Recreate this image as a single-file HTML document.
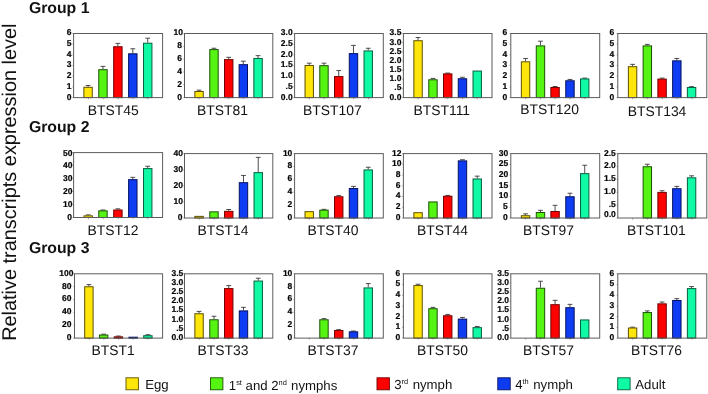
<!DOCTYPE html>
<html lang="en">
<head>
<meta charset="utf-8">
<title>Relative transcripts expression level</title>
<style>
html,body{margin:0;padding:0;background:#fff;}
body{width:708px;height:394px;overflow:hidden;}
svg{display:block;}
text{font-family:"Liberation Sans",Arial,Helvetica,sans-serif;fill:#111;text-rendering:geometricPrecision;}
.t{font-size:8.5px;font-weight:bold;text-anchor:end;fill:#000;stroke:#000;stroke-width:0.2px;}
.n{font-size:13.9px;text-anchor:middle;}
.g{font-size:15.8px;font-weight:bold;}
.l{font-size:13.2px;}
.s{font-size:7.4px;}
.y{font-size:19.9px;text-anchor:middle;}
</style>
</head>
<body>
<svg width="708" height="394" viewBox="0 0 708 394">
<rect width="708" height="394" fill="#ffffff"/>

<g>
<path d="M88.06 86.81V85.47M85.66 85.47H90.46" stroke="#3a3a3a" stroke-width="0.9" fill="none"/>
<rect x="83.86" y="87.31" width="8.4" height="10.29" fill="#ffe60a" stroke="#5e5000" stroke-width="1"/>
<path d="M102.97 69.21V66.36M100.57 66.36H105.37" stroke="#3a3a3a" stroke-width="0.9" fill="none"/>
<rect x="98.77" y="69.71" width="8.4" height="27.89" fill="#56f412" stroke="#1a5204" stroke-width="1"/>
<path d="M117.89 46.25V43.4M115.49 43.4H120.29" stroke="#3a3a3a" stroke-width="0.9" fill="none"/>
<rect x="113.69" y="46.75" width="8.4" height="50.85" fill="#ff0000" stroke="#700000" stroke-width="1"/>
<path d="M132.81 53.29V48.76M130.41 48.76H135.21" stroke="#3a3a3a" stroke-width="0.9" fill="none"/>
<rect x="128.61" y="53.79" width="8.4" height="43.81" fill="#0e3cf2" stroke="#051060" stroke-width="1"/>
<path d="M147.73 42.73V38.2M145.33 38.2H150.13" stroke="#3a3a3a" stroke-width="0.9" fill="none"/>
<rect x="143.53" y="43.23" width="8.4" height="54.37" fill="#10faa5" stroke="#06603e" stroke-width="1"/>
<rect x="73.6" y="33.5" width="89" height="64.1" fill="none" stroke="#5c5c5c" stroke-width="1"/>
<path d="M73.6 97.6h-1.2M73.6 86.92h-1.2M73.6 76.23h-1.2M73.6 65.55h-1.2M73.6 54.87h-1.2M73.6 44.18h-1.2M73.6 33.5h-1.2M88.43 97.6v1.6M103.27 97.6v1.6M118.1 97.6v1.6M132.93 97.6v1.6M147.77 97.6v1.6" stroke="#5c5c5c" stroke-width="0.55" fill="none"/>
</g>
<g>
<path d="M199.06 91V90.16M196.66 90.16H201.46" stroke="#3a3a3a" stroke-width="0.9" fill="none"/>
<rect x="194.86" y="91.5" width="8.4" height="6.1" fill="#ffe60a" stroke="#5e5000" stroke-width="1"/>
<path d="M213.98 49.1V48.26M211.58 48.26H216.38" stroke="#3a3a3a" stroke-width="0.9" fill="none"/>
<rect x="209.78" y="49.6" width="8.4" height="48" fill="#56f412" stroke="#1a5204" stroke-width="1"/>
<path d="M228.73 59.15V57.31M226.33 57.31H231.13" stroke="#3a3a3a" stroke-width="0.9" fill="none"/>
<rect x="224.53" y="59.65" width="8.4" height="37.95" fill="#ff0000" stroke="#700000" stroke-width="1"/>
<path d="M243.31 64.18V61.17M240.91 61.17H245.71" stroke="#3a3a3a" stroke-width="0.9" fill="none"/>
<rect x="239.11" y="64.68" width="8.4" height="32.92" fill="#0e3cf2" stroke="#051060" stroke-width="1"/>
<path d="M258.06 57.98V55.63M255.66 55.63H260.46" stroke="#3a3a3a" stroke-width="0.9" fill="none"/>
<rect x="253.86" y="58.48" width="8.4" height="39.12" fill="#10faa5" stroke="#06603e" stroke-width="1"/>
<rect x="184.5" y="33.5" width="88.3" height="64.1" fill="none" stroke="#5c5c5c" stroke-width="1"/>
<path d="M184.5 97.6h-1.2M184.5 84.78h-1.2M184.5 71.96h-1.2M184.5 59.14h-1.2M184.5 46.32h-1.2M184.5 33.5h-1.2M199.22 97.6v1.6M213.93 97.6v1.6M228.65 97.6v1.6M243.37 97.6v1.6M258.08 97.6v1.6" stroke="#5c5c5c" stroke-width="0.55" fill="none"/>
</g>
<g>
<path d="M309.23 65.02V63.18M306.83 63.18H311.63" stroke="#3a3a3a" stroke-width="0.9" fill="none"/>
<rect x="305.03" y="65.52" width="8.4" height="32.08" fill="#ffe60a" stroke="#5e5000" stroke-width="1"/>
<path d="M323.98 65.19V63.18M321.58 63.18H326.38" stroke="#3a3a3a" stroke-width="0.9" fill="none"/>
<rect x="319.78" y="65.69" width="8.4" height="31.91" fill="#56f412" stroke="#1a5204" stroke-width="1"/>
<path d="M338.73 76.08V70.55M336.33 70.55H341.13" stroke="#3a3a3a" stroke-width="0.9" fill="none"/>
<rect x="334.53" y="76.58" width="8.4" height="21.02" fill="#ff0000" stroke="#700000" stroke-width="1"/>
<path d="M353.48 53.12V45.41M351.08 45.41H355.88" stroke="#3a3a3a" stroke-width="0.9" fill="none"/>
<rect x="349.28" y="53.62" width="8.4" height="43.98" fill="#0e3cf2" stroke="#051060" stroke-width="1"/>
<path d="M368.23 50.44V48.26M365.83 48.26H370.63" stroke="#3a3a3a" stroke-width="0.9" fill="none"/>
<rect x="364.03" y="50.94" width="8.4" height="46.66" fill="#10faa5" stroke="#06603e" stroke-width="1"/>
<rect x="294.6" y="33.5" width="88.7" height="64.1" fill="none" stroke="#5c5c5c" stroke-width="1"/>
<path d="M294.6 97.6h-1.2M294.6 86.92h-1.2M294.6 76.23h-1.2M294.6 65.55h-1.2M294.6 54.87h-1.2M294.6 44.18h-1.2M294.6 33.5h-1.2M309.38 97.6v1.6M324.17 97.6v1.6M338.95 97.6v1.6M353.73 97.6v1.6M368.52 97.6v1.6" stroke="#5c5c5c" stroke-width="0.55" fill="none"/>
</g>
<g>
<path d="M418.06 40.21V37.53M415.66 37.53H420.46" stroke="#3a3a3a" stroke-width="0.9" fill="none"/>
<rect x="413.86" y="40.71" width="8.4" height="56.89" fill="#ffe60a" stroke="#5e5000" stroke-width="1"/>
<path d="M432.97 79.27V78.43M430.57 78.43H435.37" stroke="#3a3a3a" stroke-width="0.9" fill="none"/>
<rect x="428.77" y="79.77" width="8.4" height="17.83" fill="#56f412" stroke="#1a5204" stroke-width="1"/>
<path d="M447.72 73.4V73.07M445.32 73.07H450.12" stroke="#3a3a3a" stroke-width="0.9" fill="none"/>
<rect x="443.52" y="73.9" width="8.4" height="23.7" fill="#ff0000" stroke="#700000" stroke-width="1"/>
<path d="M462.47 78.26V77.26M460.07 77.26H464.87" stroke="#3a3a3a" stroke-width="0.9" fill="none"/>
<rect x="458.27" y="78.76" width="8.4" height="18.84" fill="#0e3cf2" stroke="#051060" stroke-width="1"/>
<rect x="473.02" y="71.05" width="8.4" height="26.55" fill="#10faa5" stroke="#06603e" stroke-width="1"/>
<rect x="403.4" y="33.5" width="88.6" height="64.1" fill="none" stroke="#5c5c5c" stroke-width="1"/>
<path d="M403.4 97.6h-1.2M403.4 88.44h-1.2M403.4 79.29h-1.2M403.4 70.13h-1.2M403.4 60.97h-1.2M403.4 51.81h-1.2M403.4 42.66h-1.2M403.4 33.5h-1.2M418.17 97.6v1.6M432.93 97.6v1.6M447.7 97.6v1.6M462.47 97.6v1.6M477.23 97.6v1.6" stroke="#5c5c5c" stroke-width="0.55" fill="none"/>
</g>
<g>
<path d="M525.55 61.33V58.48M523.15 58.48H527.95" stroke="#3a3a3a" stroke-width="0.9" fill="none"/>
<rect x="521.35" y="61.83" width="8.4" height="35.77" fill="#ffe60a" stroke="#5e5000" stroke-width="1"/>
<path d="M540.47 45.41V41.22M538.07 41.22H542.87" stroke="#3a3a3a" stroke-width="0.9" fill="none"/>
<rect x="536.27" y="45.91" width="8.4" height="51.69" fill="#56f412" stroke="#1a5204" stroke-width="1"/>
<path d="M555.05 86.98V86.48M552.65 86.48H557.45" stroke="#3a3a3a" stroke-width="0.9" fill="none"/>
<rect x="550.85" y="87.48" width="8.4" height="10.12" fill="#ff0000" stroke="#700000" stroke-width="1"/>
<path d="M569.97 80.27V79.44M567.57 79.44H572.37" stroke="#3a3a3a" stroke-width="0.9" fill="none"/>
<rect x="565.77" y="80.77" width="8.4" height="16.83" fill="#0e3cf2" stroke="#051060" stroke-width="1"/>
<path d="M584.72 78.43V78.09M582.32 78.09H587.12" stroke="#3a3a3a" stroke-width="0.9" fill="none"/>
<rect x="580.52" y="78.93" width="8.4" height="18.67" fill="#10faa5" stroke="#06603e" stroke-width="1"/>
<rect x="510.8" y="33.5" width="88.9" height="64.1" fill="none" stroke="#5c5c5c" stroke-width="1"/>
<path d="M510.8 97.6h-1.2M510.8 86.92h-1.2M510.8 76.23h-1.2M510.8 65.55h-1.2M510.8 54.87h-1.2M510.8 44.18h-1.2M510.8 33.5h-1.2M525.62 97.6v1.6M540.43 97.6v1.6M555.25 97.6v1.6M570.07 97.6v1.6M584.88 97.6v1.6" stroke="#5c5c5c" stroke-width="0.55" fill="none"/>
</g>
<g>
<path d="M632.58 66.19V64.35M630.18 64.35H634.98" stroke="#3a3a3a" stroke-width="0.9" fill="none"/>
<rect x="628.38" y="66.69" width="8.4" height="30.91" fill="#ffe60a" stroke="#5e5000" stroke-width="1"/>
<path d="M647.33 45.41V44.4M644.93 44.4H649.73" stroke="#3a3a3a" stroke-width="0.9" fill="none"/>
<rect x="643.13" y="45.91" width="8.4" height="51.69" fill="#56f412" stroke="#1a5204" stroke-width="1"/>
<path d="M662.08 78.6V78.09M659.68 78.09H664.48" stroke="#3a3a3a" stroke-width="0.9" fill="none"/>
<rect x="657.88" y="79.1" width="8.4" height="18.5" fill="#ff0000" stroke="#700000" stroke-width="1"/>
<path d="M676.83 60.33V58.48M674.43 58.48H679.23" stroke="#3a3a3a" stroke-width="0.9" fill="none"/>
<rect x="672.63" y="60.83" width="8.4" height="36.77" fill="#0e3cf2" stroke="#051060" stroke-width="1"/>
<path d="M691.58 86.98V86.64M689.18 86.64H693.98" stroke="#3a3a3a" stroke-width="0.9" fill="none"/>
<rect x="687.38" y="87.48" width="8.4" height="10.12" fill="#10faa5" stroke="#06603e" stroke-width="1"/>
<rect x="617.8" y="33.5" width="89" height="64.1" fill="none" stroke="#5c5c5c" stroke-width="1"/>
<path d="M617.8 97.6h-1.2M617.8 86.92h-1.2M617.8 76.23h-1.2M617.8 65.55h-1.2M617.8 54.87h-1.2M617.8 44.18h-1.2M617.8 33.5h-1.2M632.63 97.6v1.6M647.47 97.6v1.6M662.3 97.6v1.6M677.13 97.6v1.6M691.97 97.6v1.6" stroke="#5c5c5c" stroke-width="0.55" fill="none"/>
</g>
<g>
<path d="M88.22 215.36V214.86M85.82 214.86H90.62" stroke="#3a3a3a" stroke-width="0.9" fill="none"/>
<rect x="84.02" y="215.86" width="8.4" height="1.64" fill="#ffe60a" stroke="#5e5000" stroke-width="1"/>
<path d="M102.97 210.34V210M100.57 210H105.37" stroke="#3a3a3a" stroke-width="0.9" fill="none"/>
<rect x="98.77" y="210.84" width="8.4" height="6.66" fill="#56f412" stroke="#1a5204" stroke-width="1"/>
<path d="M117.89 209.5V208.83M115.49 208.83H120.29" stroke="#3a3a3a" stroke-width="0.9" fill="none"/>
<rect x="113.69" y="210" width="8.4" height="7.5" fill="#ff0000" stroke="#700000" stroke-width="1"/>
<path d="M132.81 179.16V177.32M130.41 177.32H135.21" stroke="#3a3a3a" stroke-width="0.9" fill="none"/>
<rect x="128.61" y="179.66" width="8.4" height="37.84" fill="#0e3cf2" stroke="#051060" stroke-width="1"/>
<path d="M147.73 168.1V166.25M145.33 166.25H150.13" stroke="#3a3a3a" stroke-width="0.9" fill="none"/>
<rect x="143.53" y="168.6" width="8.4" height="48.9" fill="#10faa5" stroke="#06603e" stroke-width="1"/>
<rect x="73.6" y="152.6" width="89" height="64.9" fill="none" stroke="#5c5c5c" stroke-width="1"/>
<path d="M73.6 217.5h-1.2M73.6 204.52h-1.2M73.6 191.54h-1.2M73.6 178.56h-1.2M73.6 165.58h-1.2M73.6 152.6h-1.2M88.43 217.5v1.6M103.27 217.5v1.6M118.1 217.5v1.6M132.93 217.5v1.6M147.77 217.5v1.6" stroke="#5c5c5c" stroke-width="0.55" fill="none"/>
</g>
<g>
<rect x="194.86" y="216.37" width="8.4" height="1.63" fill="#ffe60a" stroke="#5e5000" stroke-width="1"/>
<rect x="209.78" y="211.84" width="8.4" height="6.16" fill="#56f412" stroke="#1a5204" stroke-width="1"/>
<path d="M228.73 210.84V209.5M226.33 209.5H231.13" stroke="#3a3a3a" stroke-width="0.9" fill="none"/>
<rect x="224.53" y="211.34" width="8.4" height="6.66" fill="#ff0000" stroke="#700000" stroke-width="1"/>
<path d="M243.48 182.18V175.47M241.08 175.47H245.88" stroke="#3a3a3a" stroke-width="0.9" fill="none"/>
<rect x="239.28" y="182.68" width="8.4" height="35.32" fill="#0e3cf2" stroke="#051060" stroke-width="1"/>
<path d="M258.23 172.12V157.37M255.83 157.37H260.63" stroke="#3a3a3a" stroke-width="0.9" fill="none"/>
<rect x="254.03" y="172.62" width="8.4" height="45.38" fill="#10faa5" stroke="#06603e" stroke-width="1"/>
<rect x="184.5" y="153.6" width="88.3" height="64.4" fill="none" stroke="#5c5c5c" stroke-width="1"/>
<path d="M184.5 218h-1.2M184.5 201.9h-1.2M184.5 185.8h-1.2M184.5 169.7h-1.2M184.5 153.6h-1.2M199.22 218v1.6M213.93 218v1.6M228.65 218v1.6M243.37 218v1.6M258.08 218v1.6" stroke="#5c5c5c" stroke-width="0.55" fill="none"/>
</g>
<g>
<rect x="305.03" y="211.67" width="8.4" height="6.33" fill="#ffe60a" stroke="#5e5000" stroke-width="1"/>
<path d="M323.98 209.67V209.33M321.58 209.33H326.38" stroke="#3a3a3a" stroke-width="0.9" fill="none"/>
<rect x="319.78" y="210.17" width="8.4" height="7.83" fill="#56f412" stroke="#1a5204" stroke-width="1"/>
<path d="M338.73 196.26V195.59M336.33 195.59H341.13" stroke="#3a3a3a" stroke-width="0.9" fill="none"/>
<rect x="334.53" y="196.76" width="8.4" height="21.24" fill="#ff0000" stroke="#700000" stroke-width="1"/>
<path d="M353.48 188.04V186.37M351.08 186.37H355.88" stroke="#3a3a3a" stroke-width="0.9" fill="none"/>
<rect x="349.28" y="188.54" width="8.4" height="29.46" fill="#0e3cf2" stroke="#051060" stroke-width="1"/>
<path d="M368.23 169.44V167.26M365.83 167.26H370.63" stroke="#3a3a3a" stroke-width="0.9" fill="none"/>
<rect x="364.03" y="169.94" width="8.4" height="48.06" fill="#10faa5" stroke="#06603e" stroke-width="1"/>
<rect x="294.6" y="153.6" width="88.7" height="64.4" fill="none" stroke="#5c5c5c" stroke-width="1"/>
<path d="M294.6 218h-1.2M294.6 205.12h-1.2M294.6 192.24h-1.2M294.6 179.36h-1.2M294.6 166.48h-1.2M294.6 153.6h-1.2M309.38 218v1.6M324.17 218v1.6M338.95 218v1.6M353.73 218v1.6M368.52 218v1.6" stroke="#5c5c5c" stroke-width="0.55" fill="none"/>
</g>
<g>
<rect x="413.86" y="212.68" width="8.4" height="5.32" fill="#ffe60a" stroke="#5e5000" stroke-width="1"/>
<rect x="428.77" y="201.95" width="8.4" height="16.05" fill="#56f412" stroke="#1a5204" stroke-width="1"/>
<path d="M447.72 195.75V195.42M445.32 195.42H450.12" stroke="#3a3a3a" stroke-width="0.9" fill="none"/>
<rect x="443.52" y="196.25" width="8.4" height="21.75" fill="#ff0000" stroke="#700000" stroke-width="1"/>
<path d="M462.47 160.39V159.72M460.07 159.72H464.87" stroke="#3a3a3a" stroke-width="0.9" fill="none"/>
<rect x="458.27" y="160.89" width="8.4" height="57.11" fill="#0e3cf2" stroke="#051060" stroke-width="1"/>
<path d="M477.22 178.49V176.14M474.82 176.14H479.62" stroke="#3a3a3a" stroke-width="0.9" fill="none"/>
<rect x="473.02" y="178.99" width="8.4" height="39.01" fill="#10faa5" stroke="#06603e" stroke-width="1"/>
<rect x="403.4" y="153.6" width="88.6" height="64.4" fill="none" stroke="#5c5c5c" stroke-width="1"/>
<path d="M403.4 218h-1.2M403.4 207.27h-1.2M403.4 196.53h-1.2M403.4 185.8h-1.2M403.4 175.07h-1.2M403.4 164.33h-1.2M403.4 153.6h-1.2M418.17 218v1.6M432.93 218v1.6M447.7 218v1.6M462.47 218v1.6M477.23 218v1.6" stroke="#5c5c5c" stroke-width="0.55" fill="none"/>
</g>
<g>
<path d="M525.55 215.2V213.86M523.15 213.86H527.95" stroke="#3a3a3a" stroke-width="0.9" fill="none"/>
<rect x="521.35" y="215.7" width="8.4" height="2.3" fill="#ffe60a" stroke="#5e5000" stroke-width="1"/>
<path d="M540.47 212.01V210.34M538.07 210.34H542.87" stroke="#3a3a3a" stroke-width="0.9" fill="none"/>
<rect x="536.27" y="212.51" width="8.4" height="5.49" fill="#56f412" stroke="#1a5204" stroke-width="1"/>
<path d="M555.05 211.01V205.31M552.65 205.31H557.45" stroke="#3a3a3a" stroke-width="0.9" fill="none"/>
<rect x="550.85" y="211.51" width="8.4" height="6.49" fill="#ff0000" stroke="#700000" stroke-width="1"/>
<path d="M569.97 196.26V193.24M567.57 193.24H572.37" stroke="#3a3a3a" stroke-width="0.9" fill="none"/>
<rect x="565.77" y="196.76" width="8.4" height="21.24" fill="#0e3cf2" stroke="#051060" stroke-width="1"/>
<path d="M584.72 173.13V165.25M582.32 165.25H587.12" stroke="#3a3a3a" stroke-width="0.9" fill="none"/>
<rect x="580.52" y="173.63" width="8.4" height="44.37" fill="#10faa5" stroke="#06603e" stroke-width="1"/>
<rect x="510.8" y="153.6" width="88.9" height="64.4" fill="none" stroke="#5c5c5c" stroke-width="1"/>
<path d="M510.8 218h-1.2M510.8 207.27h-1.2M510.8 196.53h-1.2M510.8 185.8h-1.2M510.8 175.07h-1.2M510.8 164.33h-1.2M510.8 153.6h-1.2M525.62 218v1.6M540.43 218v1.6M555.25 218v1.6M570.07 218v1.6M584.88 218v1.6" stroke="#5c5c5c" stroke-width="0.55" fill="none"/>
</g>
<g>
<path d="M647.33 166.25V164.24M644.93 164.24H649.73" stroke="#3a3a3a" stroke-width="0.9" fill="none"/>
<rect x="643.13" y="166.75" width="8.4" height="51.25" fill="#56f412" stroke="#1a5204" stroke-width="1"/>
<path d="M662.08 191.9V190.73M659.68 190.73H664.48" stroke="#3a3a3a" stroke-width="0.9" fill="none"/>
<rect x="657.88" y="192.4" width="8.4" height="25.6" fill="#ff0000" stroke="#700000" stroke-width="1"/>
<path d="M676.83 188.21V186.37M674.43 186.37H679.23" stroke="#3a3a3a" stroke-width="0.9" fill="none"/>
<rect x="672.63" y="188.71" width="8.4" height="29.29" fill="#0e3cf2" stroke="#051060" stroke-width="1"/>
<path d="M691.58 177.32V175.81M689.18 175.81H693.98" stroke="#3a3a3a" stroke-width="0.9" fill="none"/>
<rect x="687.38" y="177.82" width="8.4" height="40.18" fill="#10faa5" stroke="#06603e" stroke-width="1"/>
<rect x="617.8" y="153.6" width="89" height="64.4" fill="none" stroke="#5c5c5c" stroke-width="1"/>
<path d="M617.8 218h-1.2M617.8 205.12h-1.2M617.8 192.24h-1.2M617.8 179.36h-1.2M617.8 166.48h-1.2M617.8 153.6h-1.2M632.63 218v1.6M647.47 218v1.6M662.3 218v1.6M677.13 218v1.6M691.97 218v1.6" stroke="#5c5c5c" stroke-width="0.55" fill="none"/>
</g>
<g>
<path d="M88.89 286.25V284.58M86.49 284.58H91.29" stroke="#3a3a3a" stroke-width="0.9" fill="none"/>
<rect x="84.69" y="286.75" width="8.4" height="51.35" fill="#ffe60a" stroke="#5e5000" stroke-width="1"/>
<path d="M103.64 334.53V334.19M101.24 334.19H106.04" stroke="#3a3a3a" stroke-width="0.9" fill="none"/>
<rect x="99.44" y="335.03" width="8.4" height="3.07" fill="#56f412" stroke="#1a5204" stroke-width="1"/>
<path d="M118.39 336.37V336.04M115.99 336.04H120.79" stroke="#3a3a3a" stroke-width="0.9" fill="none"/>
<rect x="114.19" y="336.87" width="8.4" height="1.23" fill="#ff0000" stroke="#700000" stroke-width="1"/>
<rect x="128.94" y="337.21" width="8.4" height="0.89" fill="#0e3cf2" stroke="#051060" stroke-width="1"/>
<path d="M147.89 335.2V334.69M145.49 334.69H150.29" stroke="#3a3a3a" stroke-width="0.9" fill="none"/>
<rect x="143.69" y="335.7" width="8.4" height="2.4" fill="#10faa5" stroke="#06603e" stroke-width="1"/>
<rect x="74.5" y="273.8" width="88.1" height="64.3" fill="none" stroke="#5c5c5c" stroke-width="1"/>
<path d="M74.5 338.1h-1.2M74.5 325.24h-1.2M74.5 312.38h-1.2M74.5 299.52h-1.2M74.5 286.66h-1.2M74.5 273.8h-1.2M89.18 338.1v1.6M103.87 338.1v1.6M118.55 338.1v1.6M133.23 338.1v1.6M147.92 338.1v1.6" stroke="#5c5c5c" stroke-width="0.55" fill="none"/>
</g>
<g>
<path d="M199.06 313.24V311.4M196.66 311.4H201.46" stroke="#3a3a3a" stroke-width="0.9" fill="none"/>
<rect x="194.86" y="313.74" width="8.4" height="24.36" fill="#ffe60a" stroke="#5e5000" stroke-width="1"/>
<path d="M213.98 319.27V316.26M211.58 316.26H216.38" stroke="#3a3a3a" stroke-width="0.9" fill="none"/>
<rect x="209.78" y="319.77" width="8.4" height="18.33" fill="#56f412" stroke="#1a5204" stroke-width="1"/>
<path d="M228.73 288.1V285.58M226.33 285.58H231.13" stroke="#3a3a3a" stroke-width="0.9" fill="none"/>
<rect x="224.53" y="288.6" width="8.4" height="49.5" fill="#ff0000" stroke="#700000" stroke-width="1"/>
<path d="M243.48 310.39V307.37M241.08 307.37H245.88" stroke="#3a3a3a" stroke-width="0.9" fill="none"/>
<rect x="239.28" y="310.89" width="8.4" height="27.21" fill="#0e3cf2" stroke="#051060" stroke-width="1"/>
<path d="M258.23 280.55V278.21M255.83 278.21H260.63" stroke="#3a3a3a" stroke-width="0.9" fill="none"/>
<rect x="254.03" y="281.05" width="8.4" height="57.05" fill="#10faa5" stroke="#06603e" stroke-width="1"/>
<rect x="184.5" y="273.8" width="88.3" height="64.3" fill="none" stroke="#5c5c5c" stroke-width="1"/>
<path d="M184.5 338.1h-1.2M184.5 328.91h-1.2M184.5 319.73h-1.2M184.5 310.54h-1.2M184.5 301.36h-1.2M184.5 292.17h-1.2M184.5 282.99h-1.2M184.5 273.8h-1.2M199.22 338.1v1.6M213.93 338.1v1.6M228.65 338.1v1.6M243.37 338.1v1.6M258.08 338.1v1.6" stroke="#5c5c5c" stroke-width="0.55" fill="none"/>
</g>
<g>
<path d="M323.98 319.27V318.6M321.58 318.6H326.38" stroke="#3a3a3a" stroke-width="0.9" fill="none"/>
<rect x="319.78" y="319.77" width="8.4" height="18.33" fill="#56f412" stroke="#1a5204" stroke-width="1"/>
<path d="M338.73 330V329.67M336.33 329.67H341.13" stroke="#3a3a3a" stroke-width="0.9" fill="none"/>
<rect x="334.53" y="330.5" width="8.4" height="7.6" fill="#ff0000" stroke="#700000" stroke-width="1"/>
<path d="M353.48 331.34V331.01M351.08 331.01H355.88" stroke="#3a3a3a" stroke-width="0.9" fill="none"/>
<rect x="349.28" y="331.84" width="8.4" height="6.26" fill="#0e3cf2" stroke="#051060" stroke-width="1"/>
<path d="M368.23 287.43V283.57M365.83 283.57H370.63" stroke="#3a3a3a" stroke-width="0.9" fill="none"/>
<rect x="364.03" y="287.93" width="8.4" height="50.17" fill="#10faa5" stroke="#06603e" stroke-width="1"/>
<rect x="294.6" y="273.8" width="88.7" height="64.3" fill="none" stroke="#5c5c5c" stroke-width="1"/>
<path d="M294.6 338.1h-1.2M294.6 325.24h-1.2M294.6 312.38h-1.2M294.6 299.52h-1.2M294.6 286.66h-1.2M294.6 273.8h-1.2M309.38 338.1v1.6M324.17 338.1v1.6M338.95 338.1v1.6M353.73 338.1v1.6M368.52 338.1v1.6" stroke="#5c5c5c" stroke-width="0.55" fill="none"/>
</g>
<g>
<path d="M418.06 285.08V284.24M415.66 284.24H420.46" stroke="#3a3a3a" stroke-width="0.9" fill="none"/>
<rect x="413.86" y="285.58" width="8.4" height="52.52" fill="#ffe60a" stroke="#5e5000" stroke-width="1"/>
<path d="M432.97 308.21V307.37M430.57 307.37H435.37" stroke="#3a3a3a" stroke-width="0.9" fill="none"/>
<rect x="428.77" y="308.71" width="8.4" height="29.39" fill="#56f412" stroke="#1a5204" stroke-width="1"/>
<path d="M447.72 315.25V314.41M445.32 314.41H450.12" stroke="#3a3a3a" stroke-width="0.9" fill="none"/>
<rect x="443.52" y="315.75" width="8.4" height="22.35" fill="#ff0000" stroke="#700000" stroke-width="1"/>
<path d="M462.47 318.6V317.43M460.07 317.43H464.87" stroke="#3a3a3a" stroke-width="0.9" fill="none"/>
<rect x="458.27" y="319.1" width="8.4" height="19" fill="#0e3cf2" stroke="#051060" stroke-width="1"/>
<path d="M477.22 327.15V326.48M474.82 326.48H479.62" stroke="#3a3a3a" stroke-width="0.9" fill="none"/>
<rect x="473.02" y="327.65" width="8.4" height="10.45" fill="#10faa5" stroke="#06603e" stroke-width="1"/>
<rect x="403.4" y="273.8" width="88.6" height="64.3" fill="none" stroke="#5c5c5c" stroke-width="1"/>
<path d="M403.4 338.1h-1.2M403.4 327.38h-1.2M403.4 316.67h-1.2M403.4 305.95h-1.2M403.4 295.23h-1.2M403.4 284.52h-1.2M403.4 273.8h-1.2M418.17 338.1v1.6M432.93 338.1v1.6M447.7 338.1v1.6M462.47 338.1v1.6M477.23 338.1v1.6" stroke="#5c5c5c" stroke-width="0.55" fill="none"/>
</g>
<g>
<path d="M540.47 287.76V281.22M538.07 281.22H542.87" stroke="#3a3a3a" stroke-width="0.9" fill="none"/>
<rect x="536.27" y="288.26" width="8.4" height="49.84" fill="#56f412" stroke="#1a5204" stroke-width="1"/>
<path d="M555.05 304.19V300.33M552.65 300.33H557.45" stroke="#3a3a3a" stroke-width="0.9" fill="none"/>
<rect x="550.85" y="304.69" width="8.4" height="33.41" fill="#ff0000" stroke="#700000" stroke-width="1"/>
<path d="M569.97 307.21V304.36M567.57 304.36H572.37" stroke="#3a3a3a" stroke-width="0.9" fill="none"/>
<rect x="565.77" y="307.71" width="8.4" height="30.39" fill="#0e3cf2" stroke="#051060" stroke-width="1"/>
<rect x="580.52" y="319.94" width="8.4" height="18.16" fill="#10faa5" stroke="#06603e" stroke-width="1"/>
<rect x="510.8" y="273.8" width="88.9" height="64.3" fill="none" stroke="#5c5c5c" stroke-width="1"/>
<path d="M510.8 338.1h-1.2M510.8 328.91h-1.2M510.8 319.73h-1.2M510.8 310.54h-1.2M510.8 301.36h-1.2M510.8 292.17h-1.2M510.8 282.99h-1.2M510.8 273.8h-1.2M525.62 338.1v1.6M540.43 338.1v1.6M555.25 338.1v1.6M570.07 338.1v1.6M584.88 338.1v1.6" stroke="#5c5c5c" stroke-width="0.55" fill="none"/>
</g>
<g>
<path d="M632.58 327.49V327.15M630.18 327.15H634.98" stroke="#3a3a3a" stroke-width="0.9" fill="none"/>
<rect x="628.38" y="327.99" width="8.4" height="10.11" fill="#ffe60a" stroke="#5e5000" stroke-width="1"/>
<path d="M647.33 312.07V310.89M644.93 310.89H649.73" stroke="#3a3a3a" stroke-width="0.9" fill="none"/>
<rect x="643.13" y="312.57" width="8.4" height="25.53" fill="#56f412" stroke="#1a5204" stroke-width="1"/>
<path d="M662.08 303.35V302.01M659.68 302.01H664.48" stroke="#3a3a3a" stroke-width="0.9" fill="none"/>
<rect x="657.88" y="303.85" width="8.4" height="34.25" fill="#ff0000" stroke="#700000" stroke-width="1"/>
<path d="M676.83 300V298.66M674.43 298.66H679.23" stroke="#3a3a3a" stroke-width="0.9" fill="none"/>
<rect x="672.63" y="300.5" width="8.4" height="37.6" fill="#0e3cf2" stroke="#051060" stroke-width="1"/>
<path d="M691.58 288.1V286.59M689.18 286.59H693.98" stroke="#3a3a3a" stroke-width="0.9" fill="none"/>
<rect x="687.38" y="288.6" width="8.4" height="49.5" fill="#10faa5" stroke="#06603e" stroke-width="1"/>
<rect x="617.8" y="273.8" width="89" height="64.3" fill="none" stroke="#5c5c5c" stroke-width="1"/>
<path d="M617.8 338.1h-1.2M617.8 327.38h-1.2M617.8 316.67h-1.2M617.8 305.95h-1.2M617.8 295.23h-1.2M617.8 284.52h-1.2M617.8 273.8h-1.2M632.63 338.1v1.6M647.47 338.1v1.6M662.3 338.1v1.6M677.13 338.1v1.6M691.97 338.1v1.6" stroke="#5c5c5c" stroke-width="0.55" fill="none"/>
</g>
<rect x="126" y="377.8" width="12.4" height="12" fill="#ffe60a" stroke="#5e5000" stroke-width="0.9"/>
<rect x="210.5" y="377.8" width="12.4" height="12" fill="#56f412" stroke="#1a5204" stroke-width="0.9"/>
<rect x="377" y="377.8" width="12.4" height="12" fill="#ff0000" stroke="#700000" stroke-width="0.9"/>
<rect x="497.8" y="377.8" width="12.4" height="12" fill="#0e3cf2" stroke="#051060" stroke-width="0.9"/>
<rect x="617.7" y="377.8" width="12.4" height="12" fill="#10faa5" stroke="#06603e" stroke-width="0.9"/>
<g style="filter:grayscale(1)">
<text class="y" transform="translate(16.1 182.2) rotate(-90)">Relative transcripts expression level</text>
<text class="g" x="28.9" y="12.8">Group 1</text>
<text class="g" x="28.9" y="131.8">Group 2</text>
<text class="g" x="28.9" y="252.7">Group 3</text>
<text class="t" x="71.55" y="99.5">0</text>
<text class="t" x="71.55" y="88.82">1</text>
<text class="t" x="71.55" y="78.13">2</text>
<text class="t" x="71.55" y="67.45">3</text>
<text class="t" x="71.55" y="56.77">4</text>
<text class="t" x="71.55" y="46.08">5</text>
<text class="t" x="71.55" y="35.4">6</text>
<text class="n" x="113.2" y="114.7">BTST45</text>
<text class="t" x="182" y="99.5">0</text>
<text class="t" x="182" y="86.68">2</text>
<text class="t" x="182" y="73.86">4</text>
<text class="t" x="182" y="61.04">6</text>
<text class="t" x="182" y="48.22">8</text>
<text class="t" x="183.05" y="35.4">10</text>
<text class="n" x="222.4" y="114.7">BTST81</text>
<text class="t" x="292.65" y="99.5">0.0</text>
<text class="t" x="292.65" y="88.82">.5</text>
<text class="t" x="292.65" y="78.13">1.0</text>
<text class="t" x="292.65" y="67.45">1.5</text>
<text class="t" x="292.65" y="56.77">2.0</text>
<text class="t" x="292.65" y="46.08">2.5</text>
<text class="t" x="292.65" y="35.4">3.0</text>
<text class="n" x="332.4" y="114.7">BTST107</text>
<text class="t" x="401.45" y="99.5">0.0</text>
<text class="t" x="401.45" y="90.34">.5</text>
<text class="t" x="401.45" y="81.19">1.0</text>
<text class="t" x="401.45" y="72.03">1.5</text>
<text class="t" x="401.45" y="62.87">2.0</text>
<text class="t" x="401.45" y="53.71">2.5</text>
<text class="t" x="401.45" y="44.56">3.0</text>
<text class="t" x="401.45" y="35.4">3.5</text>
<text class="n" x="441.8" y="114.7">BTST111</text>
<text class="t" x="507.25" y="99.5">0</text>
<text class="t" x="507.25" y="88.82">1</text>
<text class="t" x="507.25" y="78.13">2</text>
<text class="t" x="507.25" y="67.45">3</text>
<text class="t" x="507.25" y="56.77">4</text>
<text class="t" x="507.25" y="46.08">5</text>
<text class="t" x="507.25" y="35.4">6</text>
<text class="n" x="549.6" y="114.3">BTST120</text>
<text class="t" x="614.35" y="99.5">0</text>
<text class="t" x="614.35" y="88.82">1</text>
<text class="t" x="614.35" y="78.13">2</text>
<text class="t" x="614.35" y="67.45">3</text>
<text class="t" x="614.35" y="56.77">4</text>
<text class="t" x="614.35" y="46.08">5</text>
<text class="t" x="614.35" y="35.4">6</text>
<text class="n" x="657" y="116.4">BTST134</text>
<text class="t" x="71.95" y="220.4">0</text>
<text class="t" x="72.45" y="207.42">10</text>
<text class="t" x="72.45" y="194.44">20</text>
<text class="t" x="72.45" y="181.46">30</text>
<text class="t" x="72.45" y="168.48">40</text>
<text class="t" x="72.45" y="155.5">50</text>
<text class="n" x="112.9" y="234.8">BTST12</text>
<text class="t" x="182.55" y="219.9">0</text>
<text class="t" x="183.05" y="203.8">10</text>
<text class="t" x="183.05" y="187.7">20</text>
<text class="t" x="183.05" y="171.6">30</text>
<text class="t" x="183.05" y="155.5">40</text>
<text class="n" x="223" y="234.8">BTST14</text>
<text class="t" x="292.35" y="219.9">0</text>
<text class="t" x="292.35" y="207.02">2</text>
<text class="t" x="292.35" y="194.14">4</text>
<text class="t" x="292.35" y="181.26">6</text>
<text class="t" x="292.35" y="168.38">8</text>
<text class="t" x="292.35" y="155.5">10</text>
<text class="n" x="333" y="234.8">BTST40</text>
<text class="t" x="400.55" y="219.9">0</text>
<text class="t" x="400.55" y="209.17">2</text>
<text class="t" x="400.55" y="198.43">4</text>
<text class="t" x="400.55" y="187.7">6</text>
<text class="t" x="400.55" y="176.97">8</text>
<text class="t" x="401.45" y="166.23">10</text>
<text class="t" x="401.45" y="155.5">12</text>
<text class="n" x="442.5" y="234.8">BTST44</text>
<text class="t" x="507.75" y="219.9">0</text>
<text class="t" x="507.75" y="209.17">5</text>
<text class="t" x="508.25" y="198.43">10</text>
<text class="t" x="508.25" y="187.7">15</text>
<text class="t" x="508.25" y="176.97">20</text>
<text class="t" x="508.25" y="166.23">25</text>
<text class="t" x="508.25" y="155.5">30</text>
<text class="n" x="548.5" y="234.8">BTST97</text>
<text class="t" x="615.85" y="216.9">0.0</text>
<text class="t" x="615.85" y="207.02">.5</text>
<text class="t" x="615.85" y="194.14">1.0</text>
<text class="t" x="615.85" y="181.26">1.5</text>
<text class="t" x="615.85" y="168.38">2.0</text>
<text class="t" x="615.85" y="155.5">2.5</text>
<text class="n" x="656.4" y="234.8">BTST101</text>
<text class="t" x="71.55" y="340">0</text>
<text class="t" x="71.55" y="327.14">20</text>
<text class="t" x="71.55" y="314.28">40</text>
<text class="t" x="71.55" y="301.42">60</text>
<text class="t" x="71.55" y="288.56">80</text>
<text class="t" x="73.55" y="275.7">100</text>
<text class="n" x="113.2" y="354.8">BTST1</text>
<text class="t" x="183.35" y="340">0.0</text>
<text class="t" x="183.35" y="330.81">.5</text>
<text class="t" x="183.35" y="321.63">1.0</text>
<text class="t" x="183.35" y="312.44">1.5</text>
<text class="t" x="183.35" y="303.26">2.0</text>
<text class="t" x="183.35" y="294.07">2.5</text>
<text class="t" x="183.35" y="284.89">3.0</text>
<text class="t" x="183.35" y="275.7">3.5</text>
<text class="n" x="223" y="354.8">BTST33</text>
<text class="t" x="292.35" y="340">0</text>
<text class="t" x="292.35" y="327.14">2</text>
<text class="t" x="292.35" y="314.28">4</text>
<text class="t" x="292.35" y="301.42">6</text>
<text class="t" x="292.35" y="288.56">8</text>
<text class="t" x="292.35" y="275.7">10</text>
<text class="n" x="333" y="354.8">BTST37</text>
<text class="t" x="400.15" y="340">0</text>
<text class="t" x="400.15" y="329.28">1</text>
<text class="t" x="400.15" y="318.57">2</text>
<text class="t" x="400.15" y="307.85">3</text>
<text class="t" x="400.15" y="297.13">4</text>
<text class="t" x="400.15" y="286.42">5</text>
<text class="t" x="400.15" y="275.7">6</text>
<text class="n" x="442.5" y="354.8">BTST50</text>
<text class="t" x="509.05" y="340">0.0</text>
<text class="t" x="509.05" y="330.81">.5</text>
<text class="t" x="509.05" y="321.63">1.0</text>
<text class="t" x="509.05" y="312.44">1.5</text>
<text class="t" x="509.05" y="303.26">2.0</text>
<text class="t" x="509.05" y="294.07">2.5</text>
<text class="t" x="509.05" y="284.89">3.0</text>
<text class="t" x="509.05" y="275.7">3.5</text>
<text class="n" x="548.5" y="354.8">BTST57</text>
<text class="t" x="614.35" y="340">0</text>
<text class="t" x="614.35" y="329.28">1</text>
<text class="t" x="614.35" y="318.57">2</text>
<text class="t" x="614.35" y="307.85">3</text>
<text class="t" x="614.35" y="297.13">4</text>
<text class="t" x="614.35" y="286.42">5</text>
<text class="t" x="614.35" y="275.7">6</text>
<text class="n" x="656.4" y="354.8">BTST76</text>
<text class="l" x="145.2" y="388.8">Egg</text>
<text class="l" x="228.8" y="389.8">1<tspan class="s" dy="-4.7">st</tspan><tspan dy="4.7"> and 2</tspan><tspan class="s" dy="-4.7">nd</tspan><tspan dy="4.7" dx="0.6"> nymphs</tspan></text>
<text class="l" x="394.2" y="388.8">3<tspan class="s" dy="-4.7">rd</tspan><tspan dy="4.7" dx="0.9"> nymph</tspan></text>
<text class="l" x="515.2" y="388.8">4<tspan class="s" dy="-4.7">th</tspan><tspan dy="4.7" dx="0.9"> nymph</tspan></text>
<text class="l" x="635.3" y="388.8">Adult</text>
</g>
</svg>
</body>
</html>
